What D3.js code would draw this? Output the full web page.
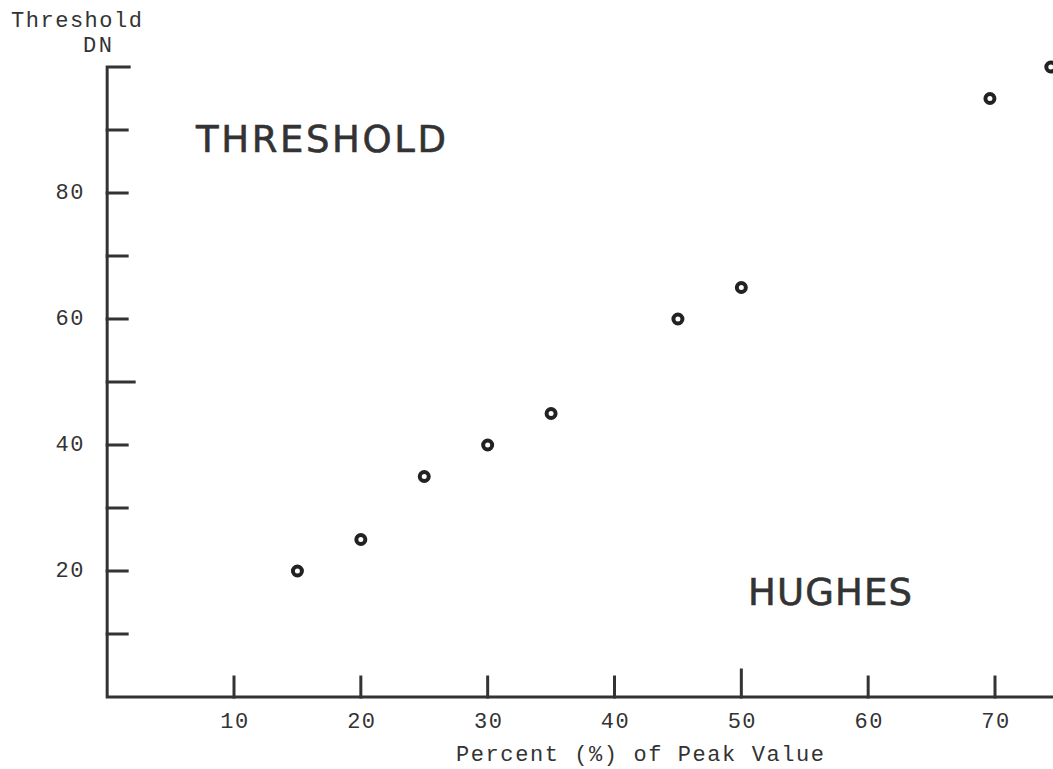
<!DOCTYPE html>
<html>
<head>
<meta charset="utf-8">
<title>Threshold vs Percent of Peak Value</title>
<script src="https://d3js.org/d3.v7.min.js"></script>
<style>
  body { margin: 0; background: #fff; }
  .mono { font-family: "Liberation Mono", "DejaVu Sans Mono", monospace; fill: #333; font-size: 22px; }
  .big { font-family: "DejaVu Sans", sans-serif; fill: #333; font-size: 37px; stroke: #333; stroke-width: 0.6px; }
  .axis-line { stroke: #333; stroke-width: 3; fill: none; stroke-linecap: square; }
</style>
</head>
<body>
<svg width="1053" height="769"></svg>
<script>
// data
var percent   = [15, 20, 25, 30, 35, 45, 50, 69.6, 74.4];
var threshold = [20, 25, 35, 40, 45, 60, 65, 95, 100];

var xTickVals = [10, 20, 30, 40, 50, 60, 70];
var yTickVals = [10, 20, 30, 40, 50, 60, 70, 80, 90];
var yLabelVals = [20, 40, 60, 80];

var svg = d3.select("svg");

var x = d3.scaleLinear().domain([10, 70]).range([234, 995]);
var y = d3.scaleLinear().domain([20, 80]).range([571, 193]);

var x0 = x(0), y0 = y(0), yTop = y(100);

// axes, drawn by hand like the typed original
svg.append("path")
  .attr("class", "axis-line")
  .attr("d", "M" + (x0 + 22) + "," + yTop + "H" + x0 + "V" + y0 + "H1060");

svg.selectAll(".ytick")
  .data(yTickVals)
  .enter().append("line")
  .attr("class", "axis-line")
  .attr("x1", x0).attr("x2", function(d) { return d == 50 ? x0 + 27 : x0 + 20; })
  .attr("y1", function(d) { return y(d); })
  .attr("y2", function(d) { return y(d); });

svg.selectAll(".xtick")
  .data(xTickVals)
  .enter().append("line")
  .attr("class", "axis-line")
  .attr("x1", function(d) { return x(d); })
  .attr("x2", function(d) { return x(d); })
  .attr("y1", y0)
  .attr("y2", function(d) { return d == 50 ? y0 - 27 : y0 - 20; });

// tick labels
svg.selectAll(".ylab")
  .data(yLabelVals)
  .enter().append("text")
  .attr("class", "mono")
  .attr("x", 85)
  .attr("y", function(d) { return y(d) + 6; })
  .attr("text-anchor", "end")
  .style("letter-spacing", "1.5px")
  .text(function(d) { return d; });

svg.selectAll(".xlab")
  .data(xTickVals)
  .enter().append("text")
  .attr("class", "mono")
  .attr("x", function(d) { return x(d) + 1; })
  .attr("y", 728)
  .attr("text-anchor", "middle")
  .style("letter-spacing", "1.5px")
  .text(function(d) { return d; });

// axis titles
svg.append("text").attr("class", "mono")
  .attr("x", 11).attr("y", 27)
  .attr("textLength", 131)
  .text("Threshold");
svg.append("text").attr("class", "mono")
  .attr("x", 83).attr("y", 52)
  .attr("textLength", 29)
  .text("DN");
svg.append("text").attr("class", "mono")
  .attr("x", 456).attr("y", 761)
  .attr("textLength", 368)
  .text("Percent (%) of Peak Value");

// labels inside the plot
svg.append("text").attr("class", "big")
  .attr("x", 196).attr("y", 152)
  .attr("textLength", 250)
  .text("THRESHOLD");
svg.append("text").attr("class", "big")
  .attr("x", 748).attr("y", 605)
  .attr("textLength", 164)
  .text("HUGHES");

// points
svg.selectAll(".pt")
  .data(percent)
  .enter().append("circle")
  .attr("cx", function(d) { return x(d); })
  .attr("cy", function(d, i) { return y(threshold[i]); })
  .attr("r", 4.5)
  .attr("fill", "#fff")
  .attr("stroke", "#222")
  .attr("stroke-width", 4);
</script>
</body>
</html>
